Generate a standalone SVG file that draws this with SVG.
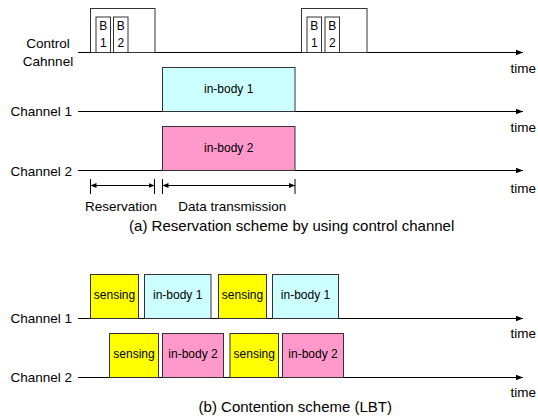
<svg xmlns="http://www.w3.org/2000/svg" width="538" height="418" viewBox="0 0 538 418">
<defs>
<style>
text{font-family:"Liberation Sans",Arial,sans-serif;fill:#000}
.lbl{font-size:13.5px}
.box{font-size:12px;text-anchor:middle}
.cap{font-size:15px;text-anchor:middle}
.bt{font-size:12px;text-anchor:middle}
.ax{stroke:#000;stroke-width:1;fill:none}
.frame{fill:#fff;stroke:#333;stroke-width:1}
.cy{fill:#ccffff;stroke:#333;stroke-width:1}
.pk{fill:#ff99cc;stroke:#333;stroke-width:1}
.ye{fill:#ffff00;stroke:#333;stroke-width:1}
</style>
<marker id="ah" viewBox="0 0 10 10" refX="10" refY="5" markerWidth="7" markerHeight="7" markerUnits="userSpaceOnUse" orient="auto">
<path d="M0,1 L10,5 L0,9 Z" fill="#000"/>
</marker>
<marker id="ms" viewBox="0 0 10 10" refX="10" refY="5" markerWidth="6" markerHeight="6" markerUnits="userSpaceOnUse" orient="auto-start-reverse">
<path d="M0,1 L10,5 L0,9 Z" fill="#000"/>
</marker>
</defs>
<rect width="538" height="418" fill="#fff"/>

<g id="axes">
<line class="ax" x1="78" y1="52.5" x2="523" y2="52.5" marker-end="url(#ah)"/>
<line class="ax" x1="78" y1="111.5" x2="523" y2="111.5" marker-end="url(#ah)"/>
<line class="ax" x1="78" y1="170.5" x2="523" y2="170.5" marker-end="url(#ah)"/>
<line class="ax" x1="78" y1="318.5" x2="523" y2="318.5" marker-end="url(#ah)"/>
<line class="ax" x1="78" y1="377.5" x2="523" y2="377.5" marker-end="url(#ah)"/>
</g>

<g id="labels-a">
<text class="lbl" x="48" y="47.5" text-anchor="middle">Control</text>
<text class="lbl" x="48" y="66" text-anchor="middle">Cahnnel</text>
<text class="lbl" x="72" y="116" text-anchor="end">Channel 1</text>
<text class="lbl" x="72" y="175.5" text-anchor="end">Channel 2</text>
<text class="lbl" x="510.5" y="73">time</text>
<text class="lbl" x="510.5" y="132">time</text>
<text class="lbl" x="510.5" y="193">time</text>
</g>

<g id="ctrl-frame-1">
<rect class="frame" x="90.5" y="8.5" width="64.5" height="44"/>
<rect class="frame" x="96" y="17" width="14.5" height="35.5"/>
<rect class="frame" x="113.5" y="17" width="14.5" height="35.5"/>
<text class="bt" x="103.3" y="29.5">B</text>
<text class="bt" x="103.3" y="46.8">1</text>
<text class="bt" x="120.8" y="29.5">B</text>
<text class="bt" x="120.8" y="46.8">2</text>
</g>

<g id="ctrl-frame-2">
<rect class="frame" x="301.5" y="8.5" width="65.5" height="44"/>
<rect class="frame" x="307" y="17" width="14.5" height="35.5"/>
<rect class="frame" x="325" y="17" width="14.5" height="35.5"/>
<text class="bt" x="314.3" y="29.5">B</text>
<text class="bt" x="314.3" y="46.8">1</text>
<text class="bt" x="332.3" y="29.5">B</text>
<text class="bt" x="332.3" y="46.8">2</text>
</g>

<g id="a-inbody1">
<rect class="cy" x="162.5" y="67.5" width="132.5" height="44"/>
<text class="box" x="228.7" y="93">in-body 1</text>
</g>
<g id="a-inbody2">
<rect class="pk" x="162.5" y="126.5" width="132.5" height="44"/>
<text class="box" x="228.7" y="152">in-body 2</text>
</g>

<g id="measures">
<line class="ax" x1="90.5" y1="179" x2="90.5" y2="194"/>
<line class="ax" x1="154.5" y1="179" x2="154.5" y2="194"/>
<line class="ax" x1="162.5" y1="179" x2="162.5" y2="194"/>
<line class="ax" x1="295" y1="179" x2="295" y2="194"/>
<line class="ax" x1="90.5" y1="185.5" x2="154.5" y2="185.5" marker-start="url(#ms)" marker-end="url(#ms)"/>
<line class="ax" x1="162.5" y1="185.5" x2="295" y2="185.5" marker-start="url(#ms)" marker-end="url(#ms)"/>
<text class="lbl" x="121" y="210.7" text-anchor="middle">Reservation</text>
<text class="lbl" x="232.3" y="210.7" text-anchor="middle">Data transmission</text>
</g>

<text class="cap" x="291.7" y="231">(a) Reservation scheme by using control channel</text>

<g id="labels-b">
<text class="lbl" x="72" y="323.3" text-anchor="end">Channel 1</text>
<text class="lbl" x="72" y="382" text-anchor="end">Channel 2</text>
<text class="lbl" x="510.5" y="338">time</text>
<text class="lbl" x="510.5" y="397">time</text>
</g>

<g id="b-sense1">
<rect class="ye" x="90.5" y="274.5" width="48" height="44"/>
<text class="box" x="114.5" y="299">sensing</text>
</g>
<g id="b-inbody1a">
<rect class="cy" x="144.5" y="274.5" width="66.5" height="44"/>
<text class="box" x="177.7" y="299">in-body 1</text>
</g>
<g id="b-sense2">
<rect class="ye" x="218.5" y="274.5" width="48" height="44"/>
<text class="box" x="242.5" y="299">sensing</text>
</g>
<g id="b-inbody1b">
<rect class="cy" x="272.5" y="274.5" width="66" height="44"/>
<text class="box" x="305.5" y="299">in-body 1</text>
</g>

<g id="b-sense3">
<rect class="ye" x="109.5" y="333.5" width="49" height="44"/>
<text class="box" x="134" y="358">sensing</text>
</g>
<g id="b-inbody2a">
<rect class="pk" x="162.5" y="333.5" width="61" height="44"/>
<text class="box" x="193" y="358">in-body 2</text>
</g>
<g id="b-sense4">
<rect class="ye" x="230" y="333.5" width="48.5" height="44"/>
<text class="box" x="254.3" y="358">sensing</text>
</g>
<g id="b-inbody2b">
<rect class="pk" x="282.5" y="333.5" width="61" height="44"/>
<text class="box" x="313" y="358">in-body 2</text>
</g>

<text class="cap" x="295.3" y="412">(b) Contention scheme (LBT)</text>
</svg>
